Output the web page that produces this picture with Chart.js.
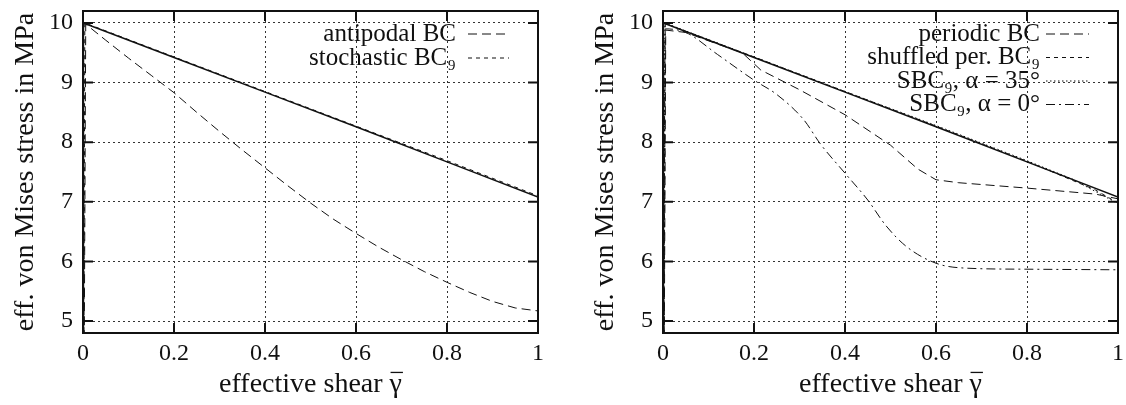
<!DOCTYPE html>
<html>
<head>
<meta charset="utf-8">
<script src="https://cdn.jsdelivr.net/npm/chart.js@4"></script>
<style>
  html, body { margin: 0; padding: 0; background: #fff; }
  #wrap { position: relative; width: 1126px; height: 405px; }
  .panel { position: absolute; top: 0; }
</style>
</head>
<body>
<div id="wrap">
  <canvas id="left" class="panel" width="563" height="405" style="left:0"></canvas>
  <canvas id="right" class="panel" width="546" height="405" style="left:580px"></canvas>
</div>
<script>
// tick values / labels
const xTicks = [0, 0.2, 0.4, 0.6, 0.8, 1]
const xTickLabels = ['0', '0.2', '0.4', '0.6', '0.8', '1']
const yTicks = [5, 6, 7, 8, 9, 10]
const yTickLabels = ['5', '6', '7', '8', '9', '10']

// left panel
const refShear = [0, 0.001, 0.2, 0.4, 0.6, 0.8, 1]
const refStress = [0, 10, 9.42, 8.84, 8.26, 7.67, 7.08]
const antipodalShear = [0, 0.006, 0.05, 0.1, 0.15, 0.2, 0.25, 0.3, 0.35, 0.4, 0.45, 0.5, 0.55, 0.6, 0.65, 0.7, 0.75, 0.8, 0.85, 0.9, 0.95, 1]
const antipodalStress = [0, 9.98, 9.71, 9.41, 9.12, 8.83, 8.5, 8.18, 7.87, 7.57, 7.27, 6.98, 6.71, 6.47, 6.24, 6.03, 5.83, 5.65, 5.48, 5.33, 5.22, 5.17]
const stochShear = [0, 0.004, 0.2, 0.4, 0.6, 0.8, 1]
const stochStress = [0, 10, 9.43, 8.85, 8.27, 7.69, 7.1]

// right panel
const periodicShear = [0, 0.006, 0.05, 0.1, 0.174, 0.215, 0.3, 0.4, 0.5, 0.56, 0.6, 0.65, 0.8, 0.95, 1]
const periodicStress = [0, 9.88, 9.84, 9.7, 9.5, 9.21, 8.88, 8.46, 7.95, 7.55, 7.37, 7.32, 7.23, 7.13, 7.05]
const shuffledShear = [0, 0.005, 0.2, 0.4, 0.6, 0.8, 0.95, 1]
const shuffledStress = [0, 9.99, 9.43, 8.85, 8.27, 7.68, 7.2, 6.98]
const sbc35Shear = [0, 0.004, 0.2, 0.4, 0.6, 0.8, 0.9, 1]
const sbc35Stress = [0, 10, 9.43, 8.85, 8.28, 7.69, 7.38, 6.97]
const sbc0Shear = [0, 0.005, 0.05, 0.12, 0.2, 0.25, 0.31, 0.345, 0.4, 0.45, 0.49, 0.535, 0.6, 0.66, 0.8, 1]
const sbc0Stress = [0, 9.9, 9.84, 9.47, 9.04, 8.8, 8.37, 7.98, 7.48, 7.03, 6.6, 6.25, 5.97, 5.89, 5.87, 5.86]

const FONT = 'Liberation Serif'
const INK = '#111'
const TITLE_SIZE = 28
const TITLE_PAD = 4

const pts = (xs, ys) => xs.map((x, i) => ({ x: x, y: ys[i] }))

function series (label, xs, ys, dash, width, smooth) {
  return {
    label: label,
    data: pts(xs, ys),
    borderColor: INK,
    borderWidth: width || 1,
    borderDash: dash,
    pointRadius: 0,
    fill: false,
    cubicInterpolationMode: smooth ? 'monotone' : 'default',
    tension: 0
  }
}

// legend drawn inside the plot, text first then the line sample (gnuplot style)
const insideLegend = {
  id: 'insideLegend',
  afterDatasetsDraw (chart, args, opts) {
    const { ctx, chartArea: a } = chart
    ctx.save()
    ctx.font = opts.size + 'px "' + FONT + '"'
    ctx.textAlign = 'right'
    ctx.textBaseline = 'middle'
    let row = 0
    chart.data.datasets.forEach(ds => {
      if (!ds.label) return
      const y = a.top + opts.top + row * opts.rowHeight
      ctx.fillStyle = INK
      ctx.fillText(ds.label, a.right - opts.textRight, y)
      ctx.strokeStyle = ds.borderColor
      ctx.lineWidth = ds.borderWidth
      ctx.setLineDash(ds.borderDash || [])
      ctx.beginPath()
      ctx.moveTo(a.right - opts.lineFrom, y)
      ctx.lineTo(a.right - opts.lineTo, y)
      ctx.stroke()
      row++
    })
    ctx.restore()
  }
}

// box round the plot with ticks pointing inwards on all four sides,
// plus the bar over the gamma of the x title
const frame = {
  id: 'frame',
  afterDraw (chart) {
    const { ctx, chartArea: a, scales } = chart
    const len = 10
    ctx.save()
    ctx.strokeStyle = INK
    ctx.lineWidth = 2
    ctx.setLineDash([])
    ctx.beginPath()
    xTicks.forEach(v => {
      const px = scales.x.getPixelForValue(v)
      ctx.moveTo(px, a.bottom); ctx.lineTo(px, a.bottom - len)
      ctx.moveTo(px, a.top); ctx.lineTo(px, a.top + len)
    })
    yTicks.forEach(v => {
      const py = scales.y.getPixelForValue(v)
      ctx.moveTo(a.left, py); ctx.lineTo(a.left + len, py)
      ctx.moveTo(a.right, py); ctx.lineTo(a.right - len, py)
    })
    ctx.stroke()
    ctx.strokeRect(a.left, a.top, a.right - a.left, a.bottom - a.top)

    // overline on the last glyph of the x title
    const text = scales.x.options.title.text
    ctx.font = TITLE_SIZE + 'px "' + FONT + '"'
    const w = ctx.measureText(text).width
    const gw = ctx.measureText(text.slice(-1)).width
    const cx = (scales.x.left + scales.x.right) / 2
    const ty = scales.x.bottom - (TITLE_SIZE * 1.2 / 2 + TITLE_PAD)
    const oy = ty - TITLE_SIZE * 0.42
    ctx.lineWidth = 1.3
    ctx.beginPath()
    ctx.moveTo(cx + w / 2 - gw + 1, oy)
    ctx.lineTo(cx + w / 2 + 1, oy)
    ctx.stroke()
    ctx.restore()
  }
}

function makeChart (id, datasets, padRight, legendOpts) {
  return new Chart(document.getElementById(id), {
    type: 'line',
    data: { datasets: datasets },
    plugins: [insideLegend, frame],
    options: {
      responsive: false,
      animation: false,
      layout: { padding: { top: 11, right: padRight, left: 0, bottom: 0 } },
      plugins: {
        legend: { display: false },
        tooltip: { enabled: false },
        insideLegend: legendOpts
      },
      scales: {
        x: {
          type: 'linear',
          min: 0,
          max: 1,
          afterBuildTicks: s => { s.ticks = xTicks.map(v => ({ value: v })) },
          afterFit: s => { s.height = 72; s.paddingLeft = 0; s.paddingRight = 0 },
          ticks: {
            color: INK,
            font: { family: FONT, size: 24 },
            padding: 6,
            maxRotation: 0,
            callback: (v, i) => xTickLabels[i]
          },
          grid: { color: '#333', lineWidth: 1, drawTicks: false },
          border: { display: false, dash: [2, 3] },
          title: {
            display: true,
            text: 'effective shear γ',
            color: INK,
            font: { family: FONT, size: TITLE_SIZE },
            padding: { top: 0, bottom: TITLE_PAD }
          }
        },
        y: {
          min: 4.8,
          max: 10.2,
          afterBuildTicks: s => { s.ticks = yTicks.map(v => ({ value: v })) },
          afterFit: s => { s.width = 83; s.paddingTop = 0; s.paddingBottom = 0 },
          ticks: {
            color: INK,
            font: { family: FONT, size: 24 },
            padding: 10,
            callback: (v, i) => yTickLabels[i]
          },
          grid: { color: '#333', lineWidth: 1, drawTicks: false },
          border: { display: false, dash: [2, 3] },
          title: {
            display: true,
            text: 'eff. von Mises stress in MPa',
            color: INK,
            font: { family: FONT, size: TITLE_SIZE },
            padding: { top: 9, bottom: 0 }
          }
        }
      }
    }
  })
}

makeChart('left', [
  series('', refShear, refStress, [], 1.5),
  series('antipodal BC', antipodalShear, antipodalStress, [9, 5], 1),
  series('stochastic BC₉', stochShear, stochStress, [4, 4], 1)
], 563 - 538, { size: 25, top: 23, rowHeight: 24, textRight: 82, lineFrom: 70, lineTo: 29 })

makeChart('right', [
  series('', refShear, refStress, [], 1.5),
  series('periodic BC', periodicShear, periodicStress, [9, 5], 1),
  series('shuffled per. BC₉', shuffledShear, shuffledStress, [4, 4], 1),
  series('SBC₉, α = 35°', sbc35Shear, sbc35Stress, [1.5, 2.5], 1),
  series('SBC₉, α = 0°', sbc0Shear, sbc0Stress, [9, 4, 2, 4], 1, true)
], 546 - 538, { size: 25, top: 23, rowHeight: 23.5, textRight: 78, lineFrom: 72, lineTo: 29 })
</script>
</body>
</html>
